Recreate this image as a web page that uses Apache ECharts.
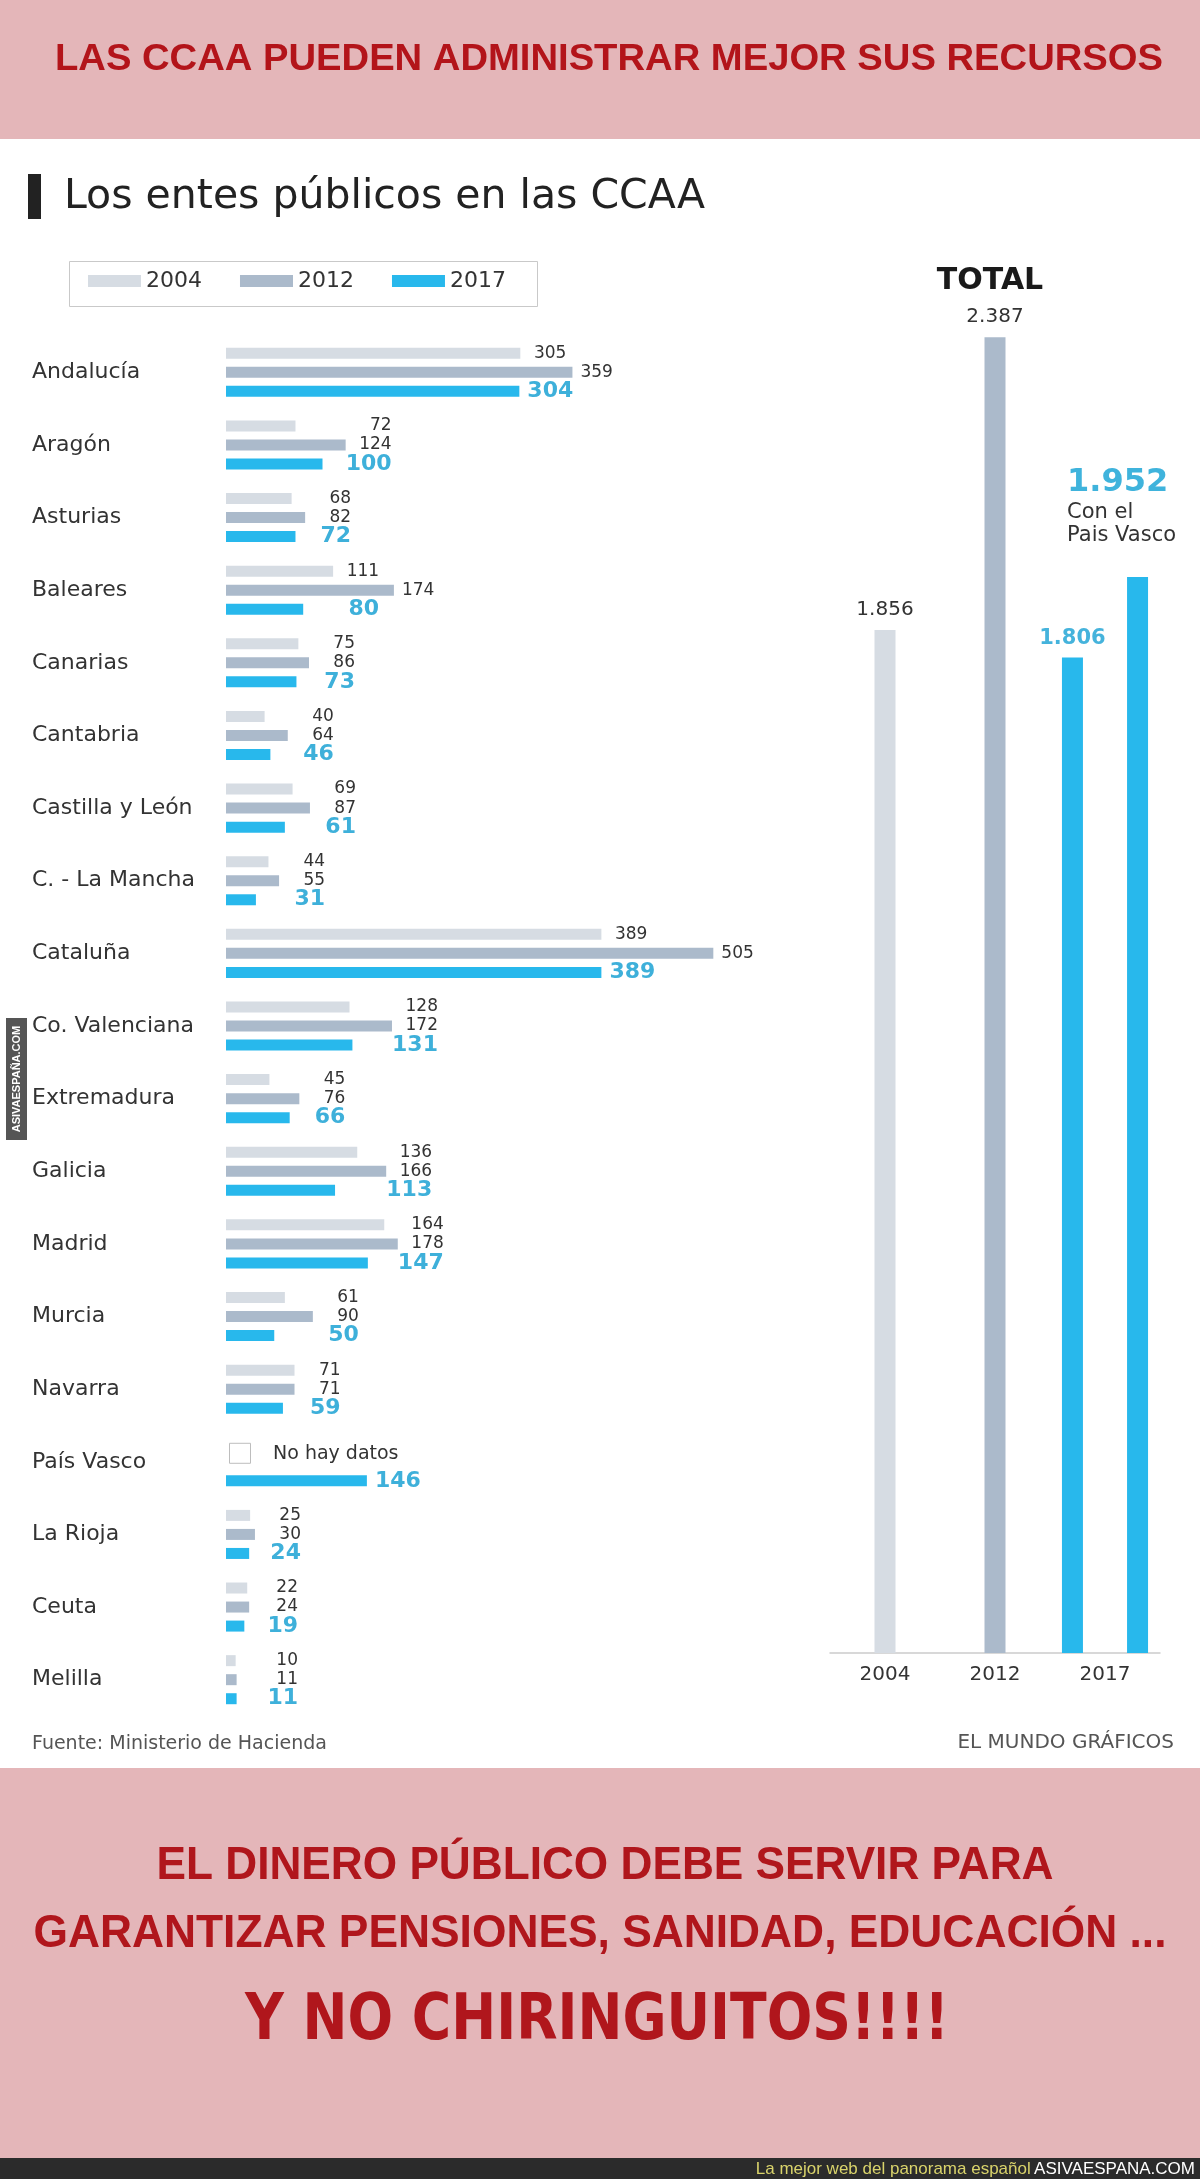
<!DOCTYPE html>
<html><head><meta charset="utf-8">
<script src="https://cdn.jsdelivr.net/npm/echarts@6/dist/echarts.min.js"></script>
<style>html,body{margin:0;padding:0;background:#fff}#c{width:1200px;height:2179px}</style>
</head><body><div id="c"></div>
<script>
// ---- data ----
const regions = ['Andalucía','Aragón','Asturias','Baleares','Canarias','Cantabria','Castilla y León','C. - La Mancha','Cataluña','Co. Valenciana','Extremadura','Galicia','Madrid','Murcia','Navarra','País Vasco','La Rioja','Ceuta','Melilla'];
const v2004 = [305,72,68,111,75,40,69,44,389,128,45,136,164,61,71,null,25,22,10];
const v2012 = [359,124,82,174,86,64,87,55,505,172,76,166,178,90,71,null,30,24,11];
const v2017 = [304,100,72,80,73,46,61,31,389,131,66,113,147,50,59,146,24,19,11];
const legendYears = ['2004','2012','2017'];
const totalYears = ['2004','2012','2017'];
const totals = [1856, 2387, 1806];
const totalConPV = 1952;

// ---- style ----
const C04 = '#d6dce3', C12 = '#abbacb', C17 = '#28b8ec';
const LBL17 = '#3eb0da';
const FONT = '"DejaVu Sans", sans-serif';
const LEFT = {left: 226, top: 336, width: 579, height: 1380};
const XMAX = 600;
const K = LEFT.width / XMAX;

const ctx = document.createElement('canvas').getContext('2d');
function tw(text, font){ ctx.font = font; return ctx.measureText(text).width; }
function fmt(v){ const s = String(v); return s.length > 3 ? s.slice(0, -3) + '.' + s.slice(-3) : s; }

const F_REG = '17px "DejaVu Sans"';
const F_BOLD = 'bold 22px "DejaVu Sans"';
const allSeries = [v2004, v2012, v2017];

function groupCol(i){
  const nn = allSeries.map(s => s[i]).filter(v => v != null).sort((a,b) => b - a);
  let col = (nn.length > 1 && (nn[0] - nn[1]) * K > 46) ? nn[1] * K + 46 : nn[0] * K + 46;
  return Math.max(col, 72);
}
function buildData(vals, sIdx){
  return vals.map((v, i) => {
    if (v == null) return '-';
    const bold = sIdx === 2;
    const w = tw(String(v), bold ? F_BOLD : F_REG);
    const col = groupCol(i);
    let label;
    if (col - w < v * K + 6) label = {position: 'right', distance: 8};
    else label = {position: [col, '50%'], align: 'right', verticalAlign: 'middle'};
    return {value: v, label: label};
  });
}
function leftSeries(name, vals, sIdx, color){
  const bold = sIdx === 2;
  return {
    name: name, type: 'bar', xAxisIndex: 0, yAxisIndex: 0,
    data: buildData(vals, sIdx), barWidth: 11, barGap: '73%',
    itemStyle: {color: color},
    label: {show: true, color: bold ? LBL17 : '#333', fontSize: bold ? 22 : 17,
            fontWeight: bold ? 'bold' : 'normal', fontFamily: FONT},
    silent: true
  };
}

const chart = echarts.init(document.getElementById('c'), null, {renderer: 'canvas'});
const option = {
  animation: false,
  backgroundColor: '#ffffff',
  textStyle: {fontFamily: FONT},
  legend: {
    data: legendYears, left: 88, top: 270, padding: 0, icon: 'rect',
    itemWidth: 53, itemHeight: 12, itemGap: 38,
    textStyle: {fontSize: 22, color: '#333', fontFamily: FONT}, selectedMode: false
  },
  grid: [
    {left: LEFT.left, top: LEFT.top, width: LEFT.width, height: LEFT.height},
    {left: 830, top: 275, width: 330, height: 1378}
  ],
  xAxis: [
    {type: 'value', gridIndex: 0, min: 0, max: XMAX, show: false},
    {type: 'category', gridIndex: 1, data: totalYears,
     axisLine: {show: true, lineStyle: {color: '#cccccc', width: 1.5}},
     axisTick: {show: false},
     axisLabel: {color: '#333', fontSize: 20, margin: 12, fontFamily: FONT}},
    {type: 'category', gridIndex: 1, data: totalYears, show: false}
  ],
  yAxis: [
    {type: 'category', gridIndex: 0, data: regions, inverse: true,
     axisLine: {show: false}, axisTick: {show: false}, splitLine: {show: false},
     axisLabel: {color: '#333', fontSize: 22, align: 'left', margin: 194, fontFamily: FONT}},
    {type: 'value', gridIndex: 1, min: 0, max: 2500, show: false, splitLine: {show: false}}
  ],
  series: [
    leftSeries('2004', v2004, 0, C04),
    leftSeries('2012', v2012, 1, C12),
    leftSeries('2017', v2017, 2, C17),
    {
      name: 'Total', type: 'bar', xAxisIndex: 1, yAxisIndex: 1, barWidth: 21, silent: true,
      data: [
        {value: totals[0], itemStyle: {color: C04}},
        {value: totals[1], itemStyle: {color: C12}},
        '-'
      ],
      label: {show: true, position: 'top', distance: 10, color: '#333', fontSize: 20,
              fontFamily: FONT, formatter: p => fmt(p.value)}
    },
    {
      name: 'Total 2017', type: 'bar', xAxisIndex: 2, yAxisIndex: 1, barWidth: 21, barGap: '210%', silent: true,
      itemStyle: {color: C17},
      data: ['-', '-', totals[2]],
      label: {show: true, position: 'top', distance: 8, color: '#45b3dc', fontSize: 21,
              fontWeight: 'bold', fontFamily: FONT, formatter: p => fmt(p.value)}
    },
    {
      name: 'Total 2017 con País Vasco', type: 'bar', xAxisIndex: 2, yAxisIndex: 1, barWidth: 21, barGap: '210%', silent: true,
      itemStyle: {color: C17},
      data: ['-', '-', totalConPV],
      label: {show: true, position: [-60, -30], align: 'left', verticalAlign: 'bottom',
              formatter: p => '{big|' + fmt(p.value) + '}\n{small|Con el}\n{small|Pais Vasco}',
              rich: {
                big: {fontSize: 32, fontWeight: 'bold', color: '#3fb3dc', lineHeight: 36, fontFamily: FONT},
                small: {fontSize: 21, color: '#333', lineHeight: 23, fontFamily: FONT}
              }}
    }
  ]
};
chart.setOption(option);

// ---- decorative texts ----
const yPV = chart.convertToPixel({yAxisIndex: 0}, 'País Vasco');

function fitText(text, font, target){ return target / tw(text, font); }

const topTxt = 'LAS CCAA PUEDEN ADMINISTRAR MEJOR SUS RECURSOS';
const topFont = 'bold 36px "Liberation Sans Narrow", "Liberation Sans", Arial, sans-serif';
const b1 = 'EL DINERO PÚBLICO DEBE SERVIR PARA';
const b2 = 'GARANTIZAR PENSIONES, SANIDAD, EDUCACIÓN ...';
const b3 = 'Y NO CHIRINGUITOS!!!!';
const bFont = 'bold 47px "Liberation Sans Narrow", "Liberation Sans", Arial, sans-serif';
const b3Font = 'bold 64px "DejaVu Sans", sans-serif';
const RED = '#b0161c';

function ftext(x, y, text, font, fill, target, extra){
  const s = target ? fitText(text, font, target) : 1;
  return {
    type: 'text', x: x, y: y, scaleX: s, silent: true,
    style: Object.assign({text: text, font: font, fill: fill, align: 'center', verticalAlign: 'middle'}, extra || {})
  };
}
const shadow = {textShadowColor: 'rgba(90,0,0,0.5)', textShadowOffsetX: 1.5, textShadowOffsetY: 1.5};

const graphics = [
  {type: 'rect', shape: {x: 0, y: 0, width: 1200, height: 139}, style: {fill: '#e4b6b9'}, silent: true, z: -10},
  ftext(609, 60, topTxt, topFont, '#b3141a', 1108),
  {type: 'rect', shape: {x: 28, y: 174, width: 13, height: 45}, style: {fill: '#222'}, silent: true},
  {type: 'text', x: 64, y: 197, silent: true,
   style: {text: 'Los entes públicos en las CCAA', font: '41px "DejaVu Sans"', fill: '#222', verticalAlign: 'middle'}},
  {type: 'rect', shape: {x: 69.5, y: 261.5, width: 468, height: 45}, style: {fill: 'none', stroke: '#c9c9c9', lineWidth: 1}, silent: true},
  {type: 'text', x: 990, y: 281, silent: true,
   style: {text: 'TOTAL', font: 'bold 30px "DejaVu Sans"', fill: '#1a1a1a', align: 'center', verticalAlign: 'middle'}},
  {type: 'rect', shape: {x: 229.5, y: yPV - 18.5, width: 21, height: 20}, style: {fill: '#fff', stroke: '#bdbdbd', lineWidth: 1}, silent: true},
  {type: 'text', x: 273, y: yPV - 8, silent: true,
   style: {text: 'No hay datos', font: '19px "DejaVu Sans"', fill: '#333', verticalAlign: 'middle'}},
  {type: 'text', x: 32, y: 1744, silent: true,
   style: {text: 'Fuente: Ministerio de Hacienda', font: '19px "DejaVu Sans"', fill: '#555', verticalAlign: 'middle'}},
  {type: 'text', x: 1174, y: 1743, silent: true,
   style: {text: 'EL MUNDO GRÁFICOS', font: '20px "DejaVu Sans"', fill: '#555', align: 'right', verticalAlign: 'middle'}},
  // watermark
  {type: 'rect', shape: {x: 6, y: 1018, width: 21, height: 122}, style: {fill: '#555'}, silent: true},
  {type: 'text', x: 16.5, y: 1079, rotation: Math.PI / 2, silent: true,
   style: {text: 'ASIVAESPAÑA.COM', font: 'bold 11px "Liberation Sans", Arial, sans-serif', fill: '#fff', align: 'center', verticalAlign: 'middle'}},
  // bottom banner
  {type: 'rect', shape: {x: 0, y: 1768, width: 1200, height: 390}, style: {fill: '#e4b6b9'}, silent: true, z: -10},
  ftext(605, 1866, b1, bFont, RED, 897, shadow),
  ftext(600, 1934, b2, bFont, RED, 1133, shadow),
  ftext(597, 2022, b3, b3Font, RED, 704, {textShadowColor: 'rgba(90,0,0,0.55)', textShadowOffsetX: 2, textShadowOffsetY: 2}),
  // footer
  {type: 'rect', shape: {x: 0, y: 2158, width: 1200, height: 21}, style: {fill: '#2b2b2b'}, silent: true},
  {type: 'text', x: 1195, y: 2169, silent: true,
   style: {text: '{a|La mejor web del panorama español} {b|ASIVAESPANA.COM}', align: 'right', verticalAlign: 'middle',
           rich: {a: {font: '17px "Liberation Sans Narrow", "Liberation Sans", Arial', fill: '#d9d36b'},
                  b: {font: '17px "Liberation Sans Narrow", "Liberation Sans", Arial', fill: '#ffffff'}}}}
];
chart.setOption({graphic: graphics});
</script>
</body></html>
